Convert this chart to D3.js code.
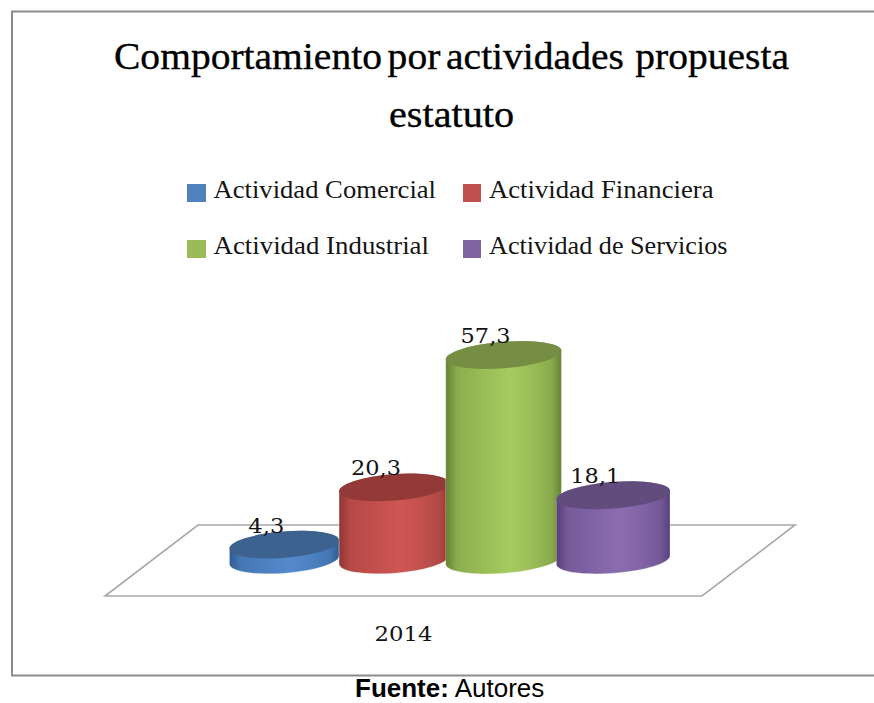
<!DOCTYPE html>
<html><head><meta charset="utf-8">
<script src="https://cdnjs.cloudflare.com/ajax/libs/d3/7.8.5/d3.min.js"></script>
<style>html,body{margin:0;padding:0;background:#fff}svg{display:block}text{white-space:pre}</style>
</head><body><div id="c"></div>
<script>
const categories = ["Actividad Comercial","Actividad Financiera","Actividad Industrial","Actividad de Servicios"];
const values = [4.3,20.3,57.3,18.1];
const valueLabels = ["4,3","20,3","57,3","18,1"];
const years = ["2014"];
const titleLines = ["Comportamiento por actividades  propuesta","estatuto"];
const colors = ["#4f81bd","#c0504d","#9bbb59","#8064a2"];
const highlights = ["#5389cc","#cf5652","#a5cc5e","#8b6cb0"];
const edges = ["#2f5c92","#8f3634","#667f36","#56407a"];
const tops = ["#3e628f","#933a38","#768e43","#624b7d"];

const W=874,H=703;
const svg=d3.select("#c").append("svg").attr("width",W).attr("height",H);
const serif="'Liberation Serif',serif", numFont="'DejaVu Serif',serif";
const ink="#141414";

// frame
svg.append("path").attr("d",`M${W},11.5H12V675.5H${W}`).attr("fill","none").attr("stroke","#8c8c8c").attr("stroke-width",2);

// title
const titleSpec=[{x:114,y:69,len:675},{x:389,y:127,len:125}];
svg.selectAll("text.title").data(titleLines).join("text").attr("class","title")
 .attr("x",(d,i)=>titleSpec[i].x).attr("y",(d,i)=>titleSpec[i].y)
 .attr("textLength",(d,i)=>titleSpec[i].len).attr("lengthAdjust","spacingAndGlyphs")
 .attr("font-family",serif).attr("font-size",38).attr("word-spacing","-4px")
 .attr("stroke","#000").attr("stroke-width",.35).attr("fill","#000").text(d=>d);

// legend
const legX=[187,463], legY=[184,240], legW=[19,18], legTextX=[213.5,489], legLen=[222.5,224.5,215.5,238.5];
const leg=svg.selectAll("g.leg").data(categories).join("g").attr("class","leg");
leg.append("rect").attr("x",(d,i)=>legX[i%2]).attr("y",(d,i)=>legY[i>>1]).attr("width",(d,i)=>legW[i%2]).attr("height",18).attr("fill",(d,i)=>colors[i]);
leg.append("text").attr("x",(d,i)=>legTextX[i%2]).attr("y",(d,i)=>legY[i>>1]+14)
 .attr("textLength",(d,i)=>legLen[i]).attr("lengthAdjust","spacingAndGlyphs")
 .attr("font-family",serif).attr("font-size",26).attr("fill",ink).text(d=>d);

// floor
const floor=[[105,596],[702,596],[795,525],[198,525]];
svg.append("polygon").attr("points",floor.join(" ")).attr("fill","#fff").attr("stroke","#a8a8a8").attr("stroke-width",1.6);

// scales
const x=d3.scaleBand().domain(categories).range([229.5,668]);
const y=d3.scaleLinear().domain([0,57.3]).range([560,355]);
const rx=d3.scaleLinear().domain([0,1,2,3]).range([55,55,58,57]);
const ry=13.2, rot=-4.5*Math.PI/180;
const defs=svg.append("defs");

categories.forEach((c,i)=>{
  const g=defs.append("linearGradient").attr("id","g"+i);
  const mix=d3.interpolateRgb(edges[i],highlights[i]);
  [[0,edges[i]],[.1,mix(.6)],[.35,mix(.82)],[.55,highlights[i]],[.72,mix(.85)],[.92,mix(.55)],[1,edges[i]]]
   .forEach(s=>g.append("stop").attr("offset",s[0]).attr("stop-color",s[1]));
});

function pt(cx,cy,a,t){ // point on rotated ellipse
  const u=a*Math.cos(t), v=ry*Math.sin(t);
  return [cx+u*Math.cos(rot)-v*Math.sin(rot), cy+u*Math.sin(rot)+v*Math.cos(rot)];
}
function ellipsePath(cx,cy,a){
  const l=pt(cx,cy,a,Math.PI), r=pt(cx,cy,a,0), deg=rot*180/Math.PI;
  return `M${l}A${a},${ry},${deg},1,1,${r}A${a},${ry},${deg},1,1,${l}Z`;
}
function bodyPath(cx,yTop,yBase,a){
  const lt=pt(cx,yTop,a,Math.PI), rt=pt(cx,yTop,a,0), lb=pt(cx,yBase,a,Math.PI), rb=pt(cx,yBase,a,0), deg=rot*180/Math.PI;
  return `M${lt}L${lb}A${a},${ry},${deg},1,0,${rb}L${rt}A${a},${ry},${deg},1,0,${lt}Z`;
}

const cyl=svg.selectAll("g.cyl").data(values).join("g").attr("class","cyl");
const cx=(d,i)=>x(categories[i])+x.bandwidth()/2;
cyl.append("path").attr("d",(d,i)=>bodyPath(cx(d,i),y(d),y(0),rx(i))).attr("fill",(d,i)=>`url(#g${i})`)
 .attr("stroke","#fff").attr("stroke-opacity",.35).attr("stroke-width",.8);
cyl.append("path").attr("d",(d,i)=>ellipsePath(cx(d,i),y(d),rx(i))).attr("fill",(d,i)=>tops[i]);

// value labels
svg.selectAll("text.val").data(values).join("text").attr("class","val")
 .attr("x",(d,i)=>cx(d,i)-18).attr("y",d=>y(d)-12).attr("text-anchor","middle")
 .attr("textLength",(d,i)=>valueLabels[i].length*14-6).attr("lengthAdjust","spacingAndGlyphs")
 .attr("font-family",numFont).attr("font-size",20.5).attr("fill",ink).text((d,i)=>valueLabels[i]);

// category axis
const xYear=d3.scaleBand().domain(years).range([105,702]);
const ax=svg.append("g").attr("transform","translate(0,596)").call(d3.axisBottom(xYear).tickSize(0).tickPadding(30));
ax.select(".domain").remove();
ax.selectAll("text").attr("font-family",numFont).attr("font-size",21).attr("fill",ink).attr("textLength",58).attr("lengthAdjust","spacingAndGlyphs").attr("dy",0).attr("y",45).attr("dominant-baseline","auto");

// source
const src=svg.append("text").attr("x",355).attr("y",697).attr("font-family","'Liberation Sans',sans-serif").attr("font-size",26).attr("fill","#000");
src.append("tspan").attr("font-weight","bold").text("Fuente:");
src.append("tspan").text(" Autores");
</script></body></html>
